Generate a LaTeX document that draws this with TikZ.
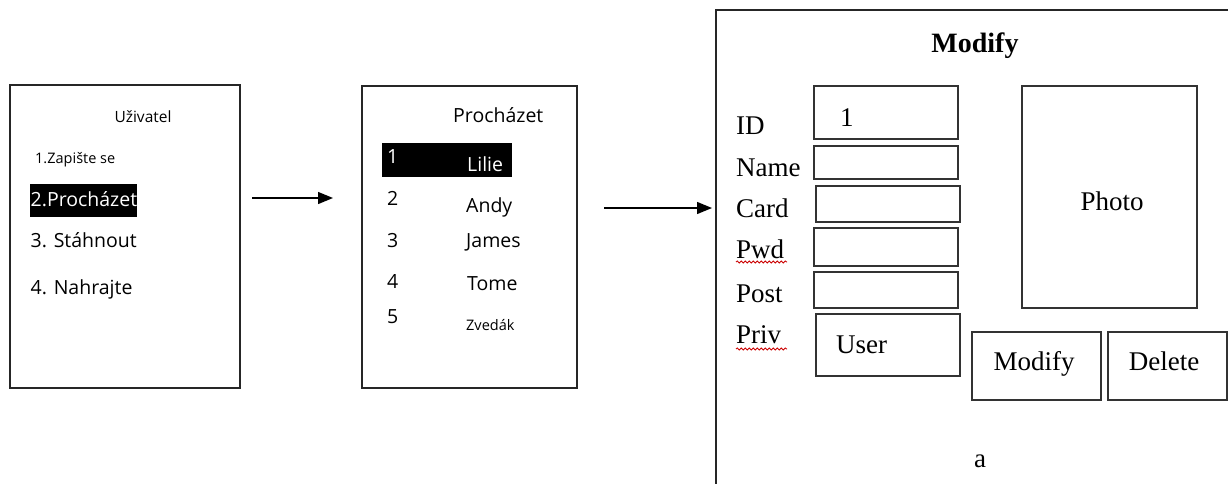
\documentclass[tikz,border=0pt]{standalone}
\usepackage{fontspec}
\setmainfont{Liberation Serif}
\newfontfamily\osans{Open Sans}
\usetikzlibrary{arrows.meta,decorations.pathmorphing}
\newcommand\sansBig{\osans\fontsize{19.5}{22}\selectfont}
\newcommand\sansMid{\osans\fontsize{15.5}{18}\selectfont}
\newcommand\sansSm{\osans\fontsize{14.5}{17}\selectfont}
\newcommand\serifBig{\fontsize{27}{30}\selectfont}
\tikzset{
  frame/.style={draw=black!85, line width=1.3pt, inner sep=0pt, fill=white},
  fieldbox/.style={draw=black!80, line width=1.6pt, inner sep=0pt},
  hilite/.style={fill=black, inner sep=0pt},
  lbl/.style={inner sep=0pt, anchor=base west},
  clbl/.style={inner sep=0pt, anchor=base},
  flow/.style={-{Triangle[length=15pt,width=12pt]}, line width=1.3pt},
  spell/.style={draw=red!80!black, line width=0.8pt, decorate, decoration={snake, amplitude=1.1pt, segment length=4pt}}
}
\begin{document}
\begin{tikzpicture}[x=1pt,y=-1pt]
\useasboundingbox (0,0) rectangle (1228,484);
\clip (0,0) rectangle (1228,484);
% left screen
\node[frame, minimum width=230pt, minimum height=303pt] (s1) at (125,236.5) {};
\node[clbl] (t1) at (143,122.5) {\sansMid Uživatel};
\node[lbl] (m1) at (35,164) {\sansSm 1.Zapište se};
\node[hilite, minimum width=107pt, minimum height=33pt] (h1) at (83.5,200.5) {};
\node[lbl, text=white] (m2) at (30.5,206) {\sansBig 2.Procházet};
\node[lbl] (m3) at (30.5,247) {\sansBig 3. Stáhnout};
\node[lbl] (m4) at (30.5,294) {\sansBig 4. Nahrajte};
% middle screen
\node[frame, minimum width=215pt, minimum height=302pt] (s2) at (469.5,237) {};
\node[lbl] (t2) at (453,123) {\sansBig Procházet};
\node[hilite, minimum width=130pt, minimum height=34pt] (h2) at (447,160) {};
\node[lbl, text=white] (n1) at (387,164) {\sansBig 1};
\node[lbl, text=white] (u1) at (467,171) {\sansBig Lilie};
\node[lbl] (n2) at (387,205) {\sansBig 2};
\node[lbl] (u2) at (466,212) {\sansBig Andy};
\node[lbl] (n3) at (387,247) {\sansBig 3};
\node[lbl] (u3) at (466,247) {\sansBig James};
\node[lbl] (n4) at (387,288) {\sansBig 4};
\node[lbl] (u4) at (467,290) {\sansBig Tome};
\node[lbl] (n5) at (387,323) {\sansBig 5};
\node[lbl] (u5) at (466,330) {\sansSm Zvedák};
% arrows
\coordinate (a1s) at (252,198);
\coordinate (a1e) at (333,198);
\coordinate (a2s) at (604,208);
\coordinate (a2e) at (712,208);
\draw[flow] (a1s) -- (a1e);
\draw[flow] (a2s) -- (a2e);
% right screen (modify dialog)
\node[frame, minimum width=540pt, minimum height=520pt] (s3) at (986,270) {};
\node[clbl] (title) at (975,53) {\fontsize{28}{30}\selectfont\bfseries Modify};
\node[lbl] (lid) at (736,135) {\serifBig ID};
\node[lbl] (lname) at (736,176) {\serifBig Name};
\node[lbl] (lcard) at (736,217) {\serifBig Card};
\node[lbl] (lpwd) at (736,258) {\serifBig Pwd};
\node[lbl] (lpost) at (736,302) {\serifBig Post};
\node[lbl] (lpriv) at (736,343) {\serifBig Priv};
\draw[spell] (736,262) -- (787,262);
\draw[spell] (736,349) -- (787,349);
\node[fieldbox, minimum width=144pt, minimum height=53pt] (fid) at (886,112.5) {};
\node[lbl] (vid) at (840,127) {\serifBig 1};
\node[fieldbox, minimum width=144pt, minimum height=33pt] (fname) at (886,162.5) {};
\node[fieldbox, minimum width=144pt, minimum height=36pt] (fcard) at (888,204) {};
\node[fieldbox, minimum width=144pt, minimum height=38pt] (fpwd) at (886,247) {};
\node[fieldbox, minimum width=144pt, minimum height=36pt] (fpost) at (886,290) {};
\node[fieldbox, minimum width=144pt, minimum height=62pt] (fpriv) at (888,345) {};
\node[lbl] (vpriv) at (836,353) {\serifBig User};
\node[fieldbox, minimum width=175pt, minimum height=222pt] (photo) at (1109.5,197) {};
\node[clbl] (tphoto) at (1112,210) {\serifBig Photo};
\node[fieldbox, minimum width=129pt, minimum height=68pt] (bmod) at (1036.5,366) {};
\node[clbl] (tmod) at (1034,370) {\serifBig Modify};
\node[fieldbox, minimum width=119pt, minimum height=68pt] (bdel) at (1167.5,366) {};
\node[clbl] (tdel) at (1164,370) {\serifBig Delete};
\node[clbl] (ta) at (980,467) {\serifBig a};
\end{tikzpicture}
\end{document}
